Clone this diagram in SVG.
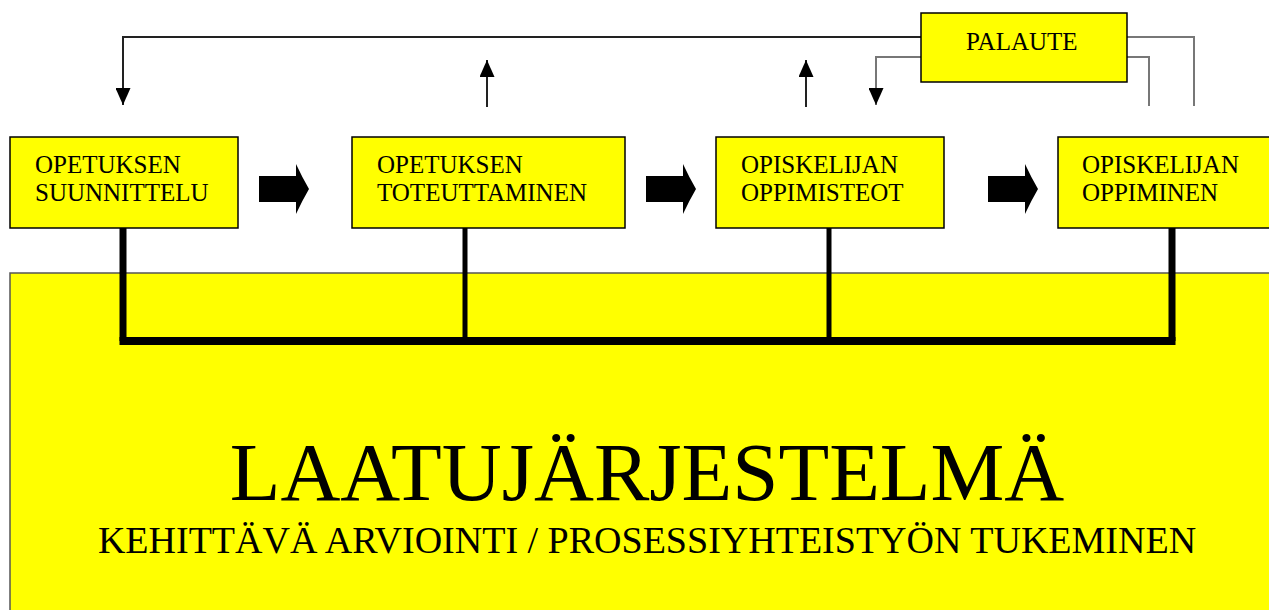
<svg xmlns="http://www.w3.org/2000/svg" width="1269" height="610" viewBox="0 0 1269 610">
<style>
.box{fill:#ffff00;stroke:#000;stroke-width:1.5}
.t{font-family:"Liberation Serif","Times New Roman",serif;fill:#000}
.bt{font-size:25px}
.ln{fill:none;stroke:#222;stroke-width:2}
.gl{fill:none;stroke:#777;stroke-width:2}
.thick{fill:none;stroke:#000}
</style>
<defs>
<marker id="ah" viewBox="0 0 17 15" refX="17" refY="7.5" markerWidth="17" markerHeight="15" markerUnits="userSpaceOnUse" orient="auto">
<path d="M0,0 L17,7.5 L0,15 Z" fill="#000"/>
</marker>
<path id="blk" d="M0,12 L37,12 L37,0 Q43,13 50,25 Q43,37 37,50 L37,38 L0,38 Z" fill="#000"/>
</defs>
<g id="base">
<rect x="10" y="273" width="1270" height="340" fill="#ffff00" stroke="#555" stroke-width="1.5"/>
<text class="t" x="647" y="500" font-size="83" text-anchor="middle">LAATUJÄRJESTELMÄ</text>
<text class="t" x="647" y="553" font-size="38" text-anchor="middle">KEHITTÄVÄ ARVIOINTI / PROSESSIYHTEISTYÖN TUKEMINEN</text>
</g>
<g id="connectors">
<path class="ln" d="M921,37 L123,37 L123,105" marker-end="url(#ah)"/>
<path class="ln" d="M487,107 L487,60" marker-end="url(#ah)"/>
<path class="ln" d="M806,107 L806,60" marker-end="url(#ah)"/>
<path class="gl" d="M921,57 L876,57 L876,105" marker-end="url(#ah)"/>
<path class="gl" d="M1127,37 L1194,37 L1194,106"/>
<path class="gl" d="M1127,57 L1149,57 L1149,106"/>
<path class="thick" stroke-width="7" d="M123,228 L123,341"/>
<path class="thick" stroke-width="5" d="M465,228 L465,341"/>
<path class="thick" stroke-width="5" d="M829,228 L829,341"/>
<path class="thick" stroke-width="7" d="M1172,228 L1172,341"/>
<path class="thick" stroke-width="8" d="M119.5,341 L1175.5,341"/>
<use href="#blk" x="259" y="164"/>
<use href="#blk" x="646" y="164"/>
<use href="#blk" x="988" y="164"/>
</g>
<g id="n1">
<rect class="box" x="10" y="137" width="228" height="91"/>
<text class="t bt" x="35" y="173">OPETUKSEN</text>
<text class="t bt" x="35" y="201">SUUNNITTELU</text>
</g>
<g id="n2">
<rect class="box" x="352" y="137" width="273" height="91"/>
<text class="t bt" x="377" y="173">OPETUKSEN</text>
<text class="t bt" x="377" y="201">TOTEUTTAMINEN</text>
</g>
<g id="n3">
<rect class="box" x="716" y="137" width="228" height="91"/>
<text class="t bt" x="741" y="173">OPISKELIJAN</text>
<text class="t bt" x="741" y="201">OPPIMISTEOT</text>
</g>
<g id="n4">
<rect class="box" x="1058" y="137" width="230" height="91"/>
<text class="t bt" x="1082" y="173">OPISKELIJAN</text>
<text class="t bt" x="1082" y="201">OPPIMINEN</text>
</g>
<g id="palaute">
<rect class="box" x="921" y="13" width="206" height="69"/>
<text class="t bt" x="966" y="50">PALAUTE</text>
</g>
</svg>
